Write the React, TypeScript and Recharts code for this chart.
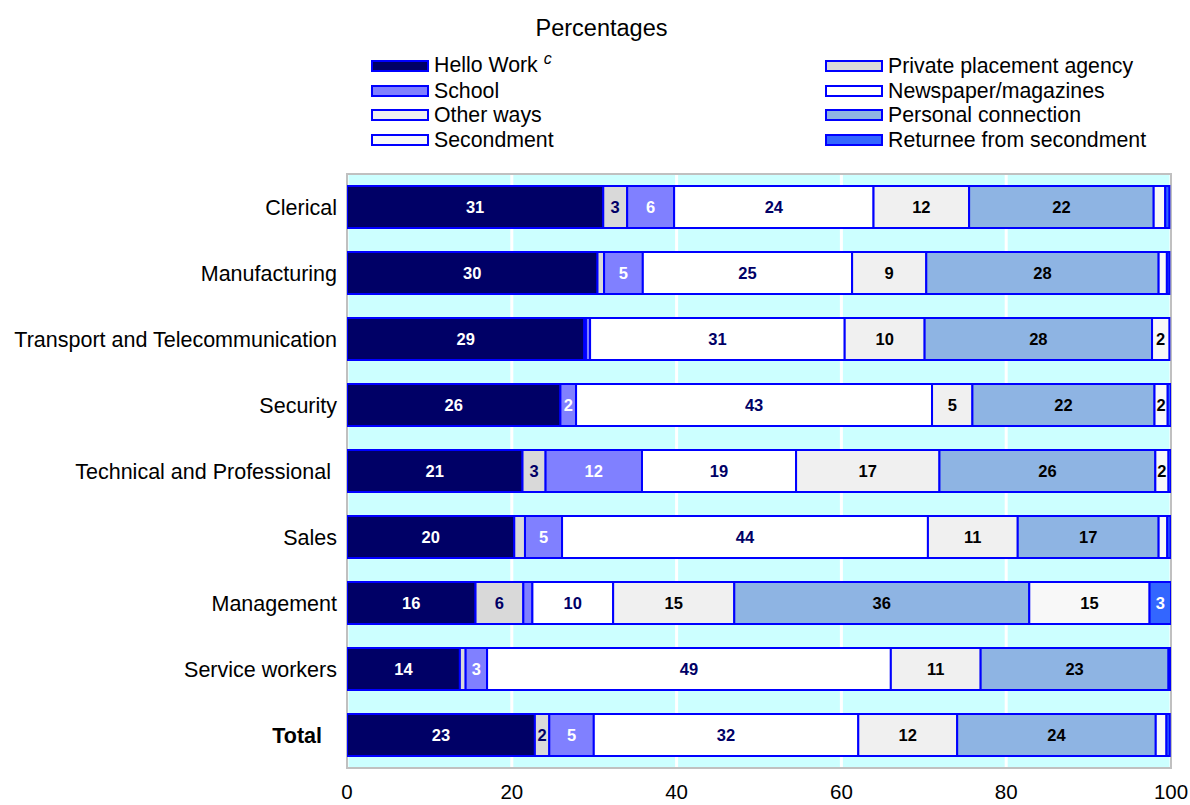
import React from 'react';
import { BarChart, Bar, XAxis, YAxis, CartesianGrid, ReferenceArea, LabelList } from 'recharts';

const categories = [
  'Clerical',
  'Manufacturing',
  'Transport and Telecommunication',
  'Security',
  'Technical and Professional',
  'Sales',
  'Management',
  'Service workers',
  'Total',
];

// percentages, stacked left to right
const helloWork = [31.1, 30.4, 28.8, 25.9, 21.3, 20.3, 15.6, 13.7, 22.8];
const privateAgency = [2.9, 0.8, 0.2, 0, 2.8, 1.3, 5.8, 0.7, 1.75];
const school = [5.7, 4.7, 0.5, 1.9, 11.7, 4.5, 1.1, 2.6, 5.4];
const newspaper = [24.2, 25.4, 30.9, 43.2, 18.7, 44.4, 9.8, 49.0, 32.1];
const otherWays = [11.6, 9.0, 9.7, 4.9, 17.4, 10.9, 14.7, 10.9, 12.0];
const personal = [22.4, 28.2, 27.6, 22.1, 26.2, 17.1, 35.8, 22.8, 24.1];
const secondment = [1.4, 1.0, 2.1, 1.6, 1.6, 1.05, 14.6, 0, 1.3];
const returnee = [0.5, 0.3, 0, 0.45, 0.35, 0.4, 2.6, 0.2, 0.4];

const xTicks = [0, 20, 40, 60, 80, 100];

const series = [
  { key: 'helloWork', name: 'Hello Work', values: helloWork, fill: '#000066', text: '#ffffff' },
  { key: 'privateAgency', name: 'Private placement agency', values: privateAgency, fill: '#d9d9d9', text: '#000066' },
  { key: 'school', name: 'School', values: school, fill: '#8080ff', text: '#ffffff' },
  { key: 'newspaper', name: 'Newspaper/magazines', values: newspaper, fill: '#ffffff', text: '#000066' },
  { key: 'otherWays', name: 'Other ways', values: otherWays, fill: '#f0f0f0', text: '#000000' },
  { key: 'personal', name: 'Personal connection', values: personal, fill: '#8eb4e3', text: '#000000' },
  { key: 'secondment', name: 'Secondment', values: secondment, fill: '#f8f8f8', text: '#000000' },
  { key: 'returnee', name: 'Returnee from secondment', values: returnee, fill: '#3366ff', text: '#ffffff' },
];

const data = categories.map((name, i) => {
  const row: Record<string, any> = { name };
  series.forEach((s) => (row[s.key] = s.values[i]));
  return row;
});

const FONT = '"Liberation Sans", Arial, sans-serif';

const legendLeft = ['helloWork', 'school', 'otherWays', 'secondment'];
const legendRight = ['privateAgency', 'newspaper', 'personal', 'returnee'];

function LegendItem({ k, left, top }: { k: string; left: number; top: number }) {
  const s = series.find((d) => d.key === k)!;
  return (
    <div style={{ position: 'absolute', left, top, height: 24, display: 'flex', alignItems: 'center' }}>
      <svg width={58} height={12} style={{ marginRight: 5 }}>
        <rect x={1} y={1} width={56} height={10} fill={s.fill} stroke="#0000ff" strokeWidth={2} />
      </svg>
      <span style={{ fontSize: 21.3, lineHeight: '24px', color: '#000', whiteSpace: 'nowrap' }}>
        {s.name}
        {k === 'helloWork' && (
          <span style={{ fontStyle: 'italic', fontSize: 16, marginLeft: 6, position: 'relative', top: -8 }}>c</span>
        )}
      </span>
    </div>
  );
}

function CategoryTick(props: any) {
  const { x, y, payload } = props;
  const isTotal = payload.value === 'Total';
  const shift = isTotal ? -15 : payload.value === 'Technical and Professional' ? -6 : 0;
  return (
    <text
      x={x - 2 + shift}
      y={y}
      dy="0.35em"
      textAnchor="end"
      fontSize={21.5}
      fontFamily={FONT}
      fontWeight={isTotal ? 'bold' : 'normal'}
      fill="#000"
    >
      {payload.value}
    </text>
  );
}

function makeLabel(color: string) {
  return (props: any) => {
    const { x, y, width, height, value } = props;
    if (value == null || value < 1.5) return null;
    return (
      <text
        x={x + width / 2}
        y={y + height / 2}
        dy="0.35em"
        textAnchor="middle"
        fontSize={16.5}
        fontWeight="bold"
        fontFamily={FONT}
        fill={color}
      >
        {Math.round(value)}
      </text>
    );
  };
}

export default function App() {
  return (
    <div style={{ position: 'absolute', left: 0, top: 0, width: 1190, height: 805, fontFamily: FONT, background: '#fff' }}>
      <div style={{ position: 'absolute', left: 0, width: 1203, top: 15, textAlign: 'center', fontSize: 23.5 }}>
        Percentages
      </div>
      {legendLeft.map((k, i) => (
        <LegendItem key={k} k={k} left={371} top={54 + i * 24.7} />
      ))}
      {legendRight.map((k, i) => (
        <LegendItem key={k} k={k} left={825} top={54 + i * 24.7} />
      ))}
      <BarChart
        width={1190}
        height={805}
        data={data}
        layout="vertical"
        margin={{ top: 174, right: 19, bottom: 0, left: 0 }}
        barSize={42}
        style={{ position: 'absolute', left: 0, top: 0 }}
      >
        <CartesianGrid horizontal={false} stroke="#ffffff" strokeWidth={3} fill="#ccffff" fillOpacity={1} />
        <ReferenceArea x1={0} x2={100} fill="none" stroke="#c0c0c0" strokeWidth={2} ifOverflow="extendDomain" />
        <XAxis
          type="number"
          domain={[0, 100]}
          ticks={xTicks}
          allowDataOverflow
          axisLine={false}
          tickLine={false}
          height={37}
          tickMargin={10}
          tick={{ fontSize: 20.5, fill: '#000', fontFamily: FONT }}
        />
        <YAxis
          type="category"
          dataKey="name"
          width={347}
          axisLine={false}
          tickLine={false}
          tick={<CategoryTick />}
          interval={0}
        />
        {series.map((s) => (
          <Bar
            key={s.key}
            dataKey={s.key}
            name={s.name}
            stackId="a"
            fill={s.fill}
            stroke="#0000ff"
            strokeWidth={2}
            isAnimationActive={false}
          >
            <LabelList dataKey={s.key} content={makeLabel(s.text)} />
          </Bar>
        ))}
      </BarChart>
    </div>
  );
}
